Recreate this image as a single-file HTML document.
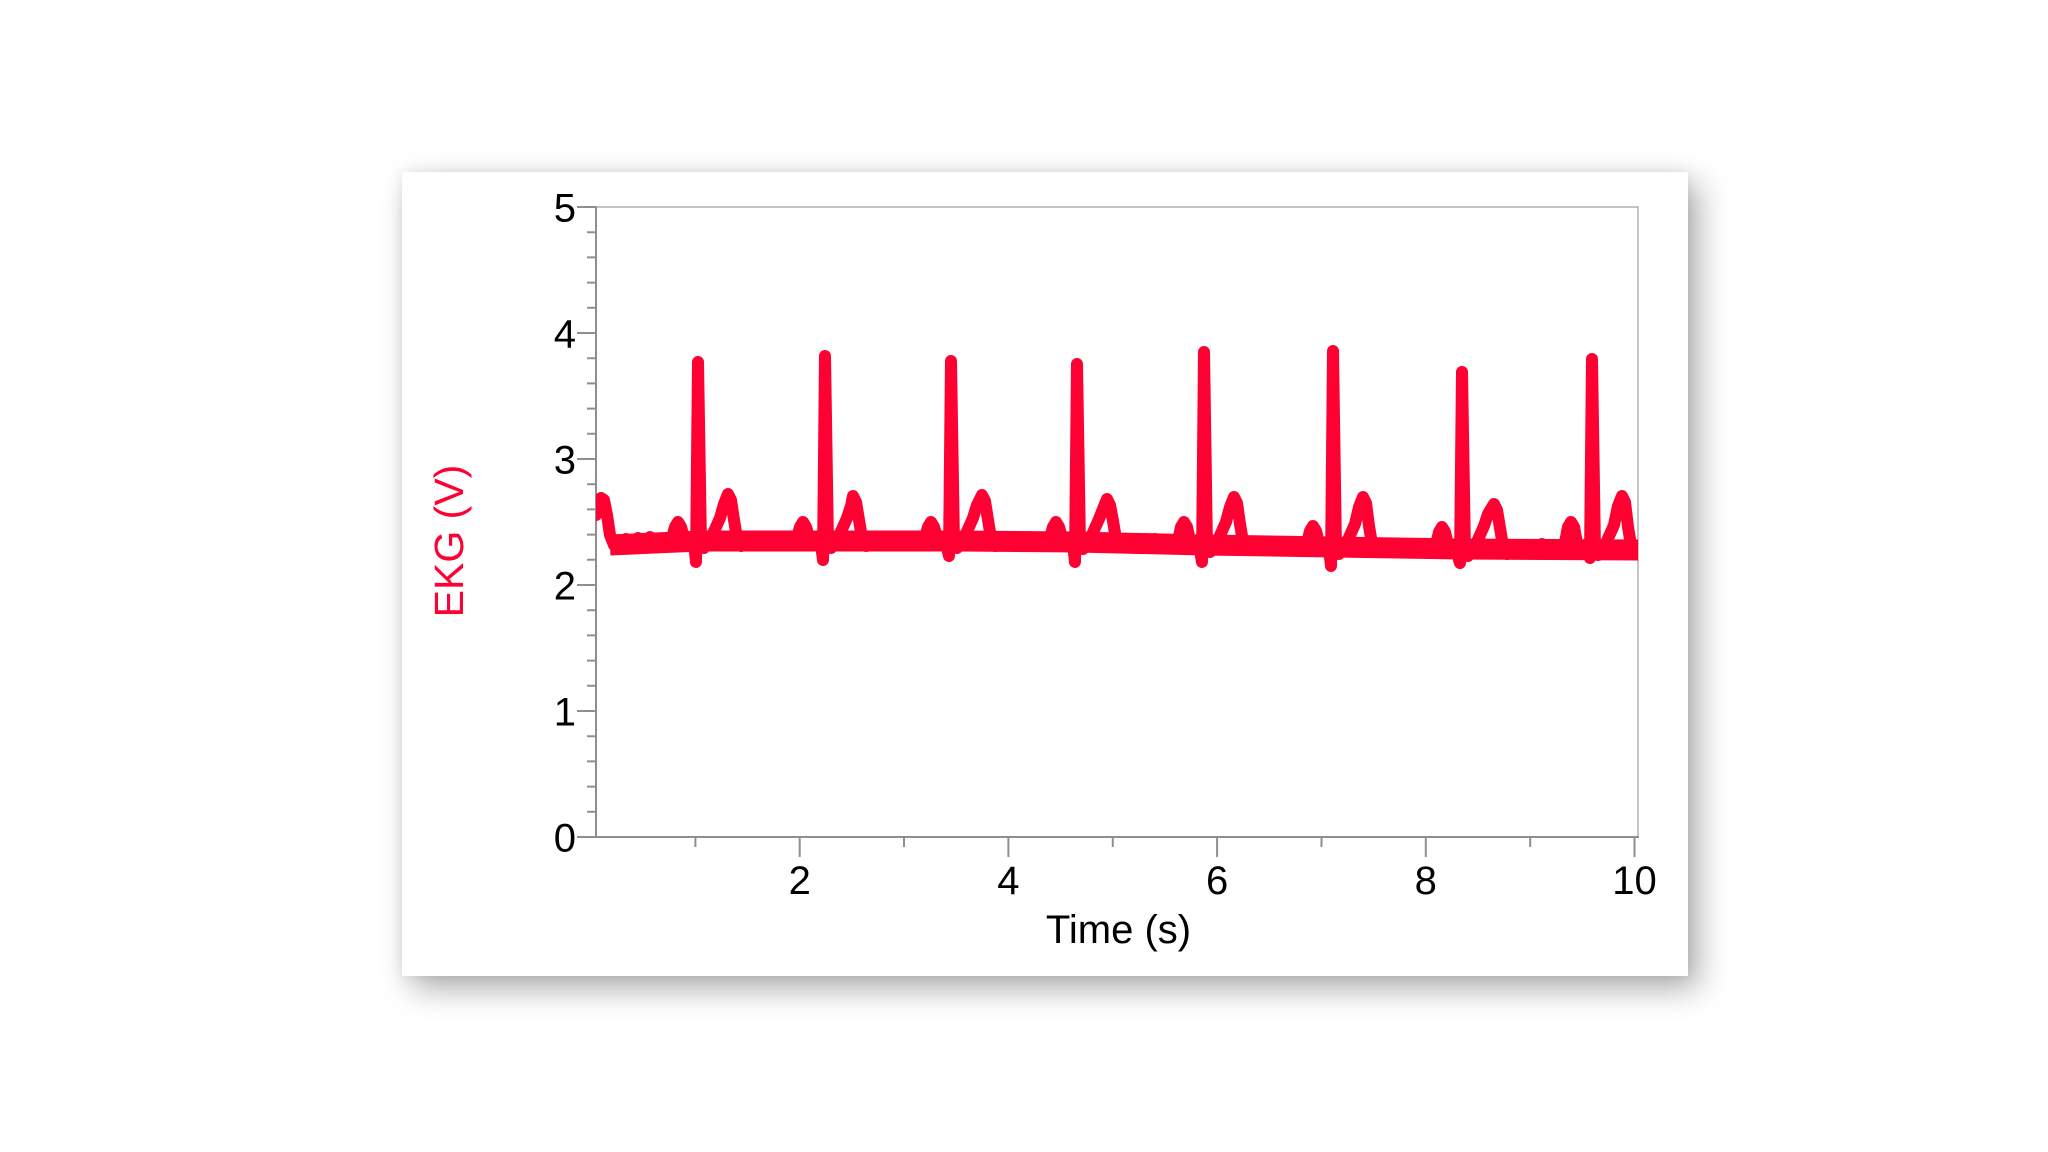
<!DOCTYPE html>
<html>
<head>
<meta charset="utf-8">
<style>
  html, body { margin:0; padding:0; background:#ffffff; }
  body { width:2048px; height:1152px; position:relative; overflow:hidden; }
  .card { position:absolute; left:402px; top:172px; width:1286px; height:804px; background:#ffffff;
          box-shadow: 10px 12px 30px rgba(0,0,0,0.33), 0 0 12px rgba(0,0,0,0.07); }
  svg { position:absolute; left:0; top:0; }
  text { font-family: "Liberation Sans", Arial, sans-serif; }
</style>
</head>
<body>
<div class="card"></div>
<svg width="2048" height="1152" viewBox="0 0 2048 1152" xmlns="http://www.w3.org/2000/svg">
  <defs>
    <clipPath id="plot"><rect x="596" y="200" width="1042" height="637"/></clipPath>
  </defs>

  <!-- plot frame -->
  <rect x="596" y="207" width="1042" height="630" fill="none" stroke="#b0b0b0" stroke-width="1.5"/>
  <line x1="596" y1="206" x2="596" y2="838" stroke="#8f8f8f" stroke-width="2"/>
  <line x1="577" y1="837" x2="1639" y2="837" stroke="#8f8f8f" stroke-width="2"/>

  <!-- y major ticks -->
  <path d="M577,837H596 M577,711H596 M577,585H596 M577,459H596 M577,333H596 M577,207H596" stroke="#8f8f8f" stroke-width="2" fill="none"/>
  <!-- y minor ticks -->
  <path d="M587,811.8H596 M587,786.6H596 M587,761.4H596 M587,736.2H596
           M587,685.8H596 M587,660.6H596 M587,635.4H596 M587,610.2H596
           M587,559.8H596 M587,534.6H596 M587,509.4H596 M587,484.2H596
           M587,433.8H596 M587,408.6H596 M587,383.4H596 M587,358.2H596
           M587,307.8H596 M587,282.6H596 M587,257.4H596 M587,232.2H596" stroke="#8f8f8f" stroke-width="2" fill="none"/>
  <!-- x major ticks -->
  <path d="M799.7,837V857 M1008.4,837V857 M1217.1,837V857 M1425.8,837V857 M1634.5,837V857" stroke="#8f8f8f" stroke-width="2" fill="none"/>
  <!-- x minor ticks -->
  <path d="M695.4,837V847 M904,837V847 M1112.8,837V847 M1321.5,837V847 M1530.2,837V847" stroke="#8f8f8f" stroke-width="2" fill="none"/>

  <!-- y labels -->
  <g font-size="40" fill="#000" text-anchor="end">
    <text x="576" y="851.5">0</text>
    <text x="576" y="725.5">1</text>
    <text x="576" y="599.5">2</text>
    <text x="576" y="473.5">3</text>
    <text x="576" y="347.5">4</text>
    <text x="576" y="221.5">5</text>
  </g>
  <!-- x labels -->
  <g font-size="40" fill="#000" text-anchor="middle">
    <text x="799.7" y="894">2</text>
    <text x="1008.4" y="894">4</text>
    <text x="1217.1" y="894">6</text>
    <text x="1425.8" y="894">8</text>
    <text x="1634.5" y="894">10</text>
  </g>
  <text x="1118.5" y="943" font-size="40" fill="#000" text-anchor="middle">Time (s)</text>
  <text transform="translate(463,541) rotate(-90)" font-size="41" fill="#ff0033" text-anchor="middle">EKG (V)</text>

  <!-- trace -->
  <g clip-path="url(#plot)">
    <path d="M610,545 L700,541 960,541 1077,542 1204,545 1333,547 1462,549 1640,550"
          fill="none" stroke="#ff0033" stroke-width="21" stroke-linejoin="round"/>
    <path fill="none" stroke="#ff0033" stroke-width="12" stroke-linejoin="round" stroke-linecap="round"
      d="M596,515 L598,502 601,498 604,500 607,515 610,535 614,545 620,542 626,539 632,543 638,538 644,542 650,537 656,542 662,539 671,541
      675,527 678,522 681,527 685,541 690,543 693,540 695,552 696,562 698,362 701,545 704,548 708,540 712,536 716,527 720,518 724,504 728,494 731,500 734,520 737,538 741,546 746,544 752,539 758,543 764,538 770,542 776,537 782,542 788,539 796,541
      800,527 803,522 806,527 810,541 817,543 820,540 822,552 823,560 825,356 828,545 831,548 835,540 839,536 843,527 847,518 851,506 853,496 856,502 859,520 862,538 866,546 871,544 877,539 883,543 889,538 895,542 901,537 907,542 913,539 924,541
      928,527 931,522 934,527 938,541 943,543 946,540 948,552 949,556 951,361 954,545 957,548 961,540 965,536 969,527 973,518 977,505 982,495 985,501 988,520 991,538 995,546 1000,544 1006,539 1012,543 1018,538 1024,542 1030,537 1036,542 1042,539 1049,542
      1053,527 1056,522 1059,527 1063,542 1069,544 1072,541 1074,553 1075,562 1077,364 1080,546 1083,549 1087,541 1091,537 1095,528 1099,519 1103,509 1107,499 1110,505 1113,521 1116,539 1120,547 1125,545 1131,541 1137,545 1143,540 1149,544 1155,539 1161,544 1167,541 1177,545
      1181,527 1184,522 1187,527 1191,545 1196,547 1199,544 1201,556 1202,562 1204,352 1207,549 1210,552 1214,544 1218,540 1222,531 1226,522 1230,507 1234,497 1237,503 1240,524 1243,542 1247,550 1252,548 1258,545 1264,550 1270,544 1276,549 1282,543 1288,549 1294,545 1300,550 1306,547
      1310,531 1313,526 1316,531 1320,547 1325,549 1328,546 1330,558 1331,566 1333,351 1336,551 1339,554 1343,546 1347,542 1351,533 1355,524 1359,507 1363,497 1366,503 1369,526 1372,544 1376,552 1381,550 1387,547 1393,552 1399,546 1405,551 1411,545 1417,551 1423,547 1429,551 1435,549
      1439,532 1442,527 1445,532 1449,549 1454,551 1457,548 1459,560 1460,563 1462,372 1465,553 1468,556 1472,548 1476,544 1480,535 1484,526 1488,514 1494,504 1497,510 1500,528 1503,546 1507,554 1512,552 1518,546 1524,551 1530,545 1536,550 1542,544 1548,549 1554,545 1564,548
      1568,527 1571,522 1574,527 1578,548 1584,550 1587,547 1589,554 1590,558 1592,359 1595,552 1598,555 1602,547 1606,543 1610,534 1614,525 1618,506 1622,496 1625,502 1628,527 1631,545 1635,553 1642,552"/>
  </g>
</svg>
</body>
</html>
